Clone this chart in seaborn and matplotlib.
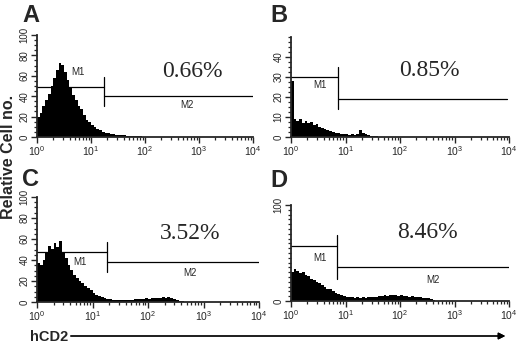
import numpy as np
import pandas as pd
import seaborn as sns
import matplotlib.pyplot as plt
from matplotlib.ticker import FixedLocator, FuncFormatter

# histogram bins: 1/20 decade, log10 position of left bin edge
bin_w = 0.05
edges = np.round(np.arange(0, 4.0001, bin_w), 3)

# relative cell counts per bin, zeros after the list
counts_a = [20, 24, 30, 36, 42, 50, 58, 66, 73, 71, 64, 56, 48, 41, 36, 30, 27, 22, 17, 15,
            12, 10, 8, 7, 5, 4, 3.5, 3, 2.5, 2, 2, 1.5, 1.5, 1, 1, 0.8, 0.8, 0.5, 0.5, 0.3,
            0.3, 0.2, 0.2, 0.2, 0.1, 0.1]
counts_b = [28, 9, 8, 9, 7, 8, 7, 7.5, 6, 6.5, 5, 4.5, 4, 3.5, 3, 2.5, 2, 2, 1.5, 1.5,
            1.5, 1, 1.5, 1, 1.5, 3.5, 2, 1.5, 1, 0.5, 0.3, 0.3]
counts_c = [37, 35, 40, 48, 53, 50, 56, 52, 58, 48, 42, 35, 30, 26, 23, 20, 18, 15, 13, 11,
            9, 7, 6, 4.5, 3.5, 3, 2.5, 2, 2, 2, 1.5, 2, 1.5, 2, 2, 2.5, 2.5, 3, 3, 3.5,
            3, 3.5, 4, 3.5, 4, 4.5, 4, 5, 4, 3, 2, 1, 0.5]
counts_d = [30, 33, 31, 29, 30, 27, 26, 23, 22, 20, 19, 17, 15, 13, 12, 10, 8, 7, 6, 5,
            4.5, 4, 4, 3.5, 4, 3.5, 4, 3.5, 4, 4, 4.5, 4, 5, 5, 6, 5.5, 6, 6.5, 6, 5.5,
            6, 5, 5.5, 4.5, 5, 4, 4.5, 4, 3.5, 3.5, 3, 2.5, 1.5, 0.5]

panel_letters = ['A', 'B', 'C', 'D']
percent_labels = ['0.66%', '0.85%', '3.52%', '8.46%']
y_max = [100, 50, 100, 100]
y_major = [[0, 20, 40, 60, 80, 100], [0, 10, 20, 30, 40], [0, 20, 40, 60, 80, 100], [0, 100]]
y_minor_step = [5, 2.5, 5, 5]

# gate markers (log10 units / y units)
m1_y = [49, 30, 48, 57]
gate_x = [1.24, 0.86, 1.26, 0.85]
gate_tick = [(30, 59), (14, 35), (29, 57), (23, 69)]
m2_y = [40, 19, 38, 35]
m2_end = [4.0, 3.96, 4.0, 4.0]
m1_label_pos = [(0.76, 64), (0.53, 26), (0.77, 38), (0.53, 45)]
m2_label_pos = [(2.78, 31), None, (2.76, 28), (2.6, 22)]
pct_pos = [(2.87, 64), (2.53, 33), (2.76, 65), (2.51, 71)]

sns.set_style("ticks")
plt.rcParams['font.family'] = ['Liberation Sans', 'DejaVu Sans']
plt.rcParams['mathtext.default'] = 'regular'

fig = plt.figure(figsize=(5.2, 3.43), dpi=100)
W, H = 520, 343
# pixel boxes: left, right, top, bottom
boxes = [(37, 253, 35, 137), (291, 509, 37, 137), (37, 259, 197, 302), (291, 509, 205, 301)]
letter_xy = [(22, 22), (270, 22), (22, 186), (270, 187)]

for i, counts in enumerate([counts_a, counts_b, counts_c, counts_d]):
    l, r, t, b = boxes[i]
    ax = fig.add_axes([l / W, 1 - b / H, (r - l) / W, (b - t) / H])
    vals = np.zeros(len(edges) - 1)
    vals[:len(counts)] = counts
    df = pd.DataFrame({'pos': edges[:-1] + bin_w / 2, 'count': vals})
    sns.histplot(data=df, x='pos', weights='count', binwidth=bin_w, binrange=(0, 4),
                 element='step', fill=True, color='black', alpha=1, linewidth=0, ax=ax)
    ax.set_xlim(0, 4)
    ax.set_ylim(0, y_max[i])
    ax.set_xlabel('')
    ax.set_ylabel('')
    sns.despine(ax=ax)
    for s in ['left', 'bottom']:
        ax.spines[s].set_linewidth(1.3)
    ax.xaxis.set_major_locator(FixedLocator([0, 1, 2, 3, 4]))
    ax.xaxis.set_minor_locator(FixedLocator([d + np.log10(k) for d in range(4) for k in range(2, 10)]))
    ax.xaxis.set_major_formatter(FuncFormatter(lambda v, p: r'$10^{%d}$' % round(v)))
    ax.yaxis.set_major_locator(FixedLocator(y_major[i]))
    ax.yaxis.set_minor_locator(FixedLocator(np.arange(0, y_max[i] + 0.01, y_minor_step[i])))
    ax.tick_params(axis='x', which='major', length=4, width=1, labelsize=7.5, pad=1.5)
    ax.tick_params(axis='y', which='major', length=4, width=1, labelsize=7, pad=1.5)
    ax.tick_params(which='minor', length=2.5, width=0.9)
    for lab in ax.get_yticklabels():
        lab.set_rotation(90)
        lab.set_va('center')

    # gates
    ax.plot([0, gate_x[i]], [m1_y[i], m1_y[i]], color='black', lw=0.9)
    ax.plot([gate_x[i], gate_x[i]], gate_tick[i], color='black', lw=0.9)
    ax.plot([gate_x[i], m2_end[i]], [m2_y[i], m2_y[i]], color='black', lw=0.9)
    ax.text(*m1_label_pos[i], 'M1', fontsize=7, ha='center', va='center')
    if m2_label_pos[i] is not None:
        ax.text(*m2_label_pos[i], 'M2', fontsize=7, ha='center', va='center')
    ax.text(*pct_pos[i], percent_labels[i], fontsize=17, ha='center', va='center',
            family=['Liberation Serif', 'DejaVu Serif'])

    lx, ly = letter_xy[i]
    fig.text(lx / W, 1 - ly / H, panel_letters[i], fontsize=17, fontweight='bold',
             ha='left', va='baseline')

fig.text(9 / W, 1 - 157 / H, 'Relative Cell no.', rotation=90, fontsize=11.5,
         fontweight='bold', ha='center', va='center')
fig.text(30 / W, 1 - 337 / H, 'hCD2', fontsize=10.5, fontweight='bold', ha='left', va='center')
fig.add_artist(plt.annotate('', xy=(508 / W, 1 - 336 / H), xytext=(68 / W, 1 - 336 / H),
                            xycoords='figure fraction', textcoords='figure fraction',
                            arrowprops=dict(arrowstyle='-|>', color='black', lw=0.9,
                                            mutation_scale=10)))

fig.savefig('out.png', dpi=100)
